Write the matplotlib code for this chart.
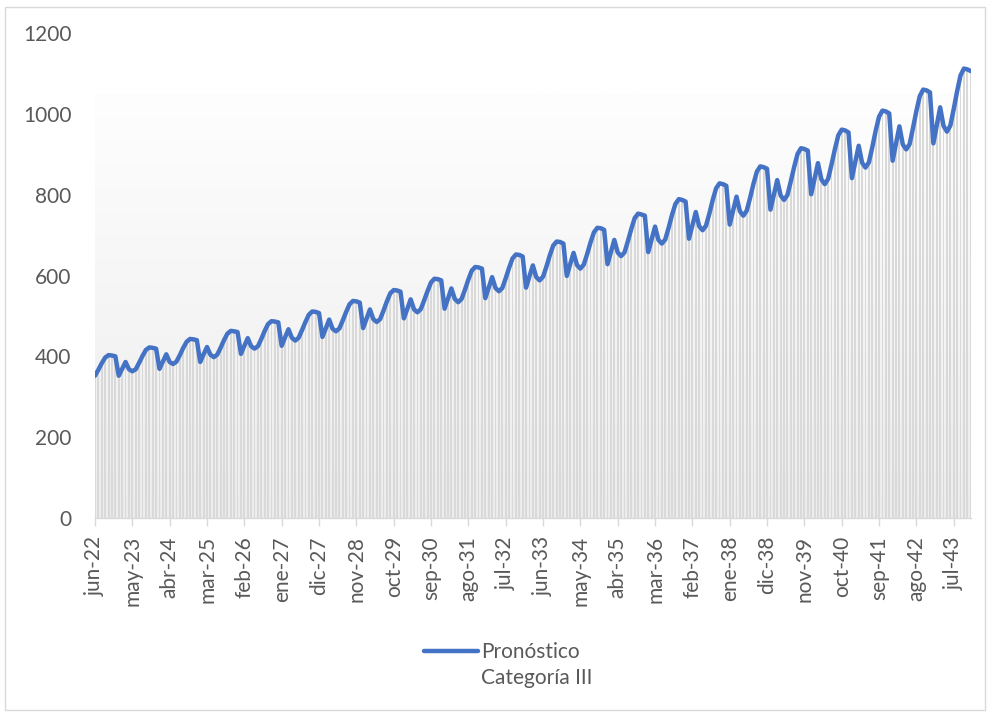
import numpy as np
import matplotlib
matplotlib.use('Agg')
from matplotlib import pyplot as plt
from matplotlib.patches import Rectangle
from matplotlib.lines import Line2D
from matplotlib.colors import LinearSegmentedColormap

# serie mensual jun-22 .. dic-43
pronostico = [
    352, 367, 383, 397, 403, 402, 400,                           # 2022 (jun-dic)
    352, 369, 386, 368, 363, 368, 384, 401, 416, 422, 421, 419,  # 2023
    369, 387, 405, 386, 381, 387, 403, 421, 436, 443, 442, 440,  # 2024
    386, 405, 423, 404, 398, 404, 421, 440, 456, 463, 462, 460,  # 2025
    406, 426, 445, 425, 419, 425, 443, 463, 480, 487, 486, 484,  # 2026
    426, 447, 467, 446, 439, 446, 465, 485, 503, 511, 510, 507,  # 2027
    448, 469, 491, 468, 462, 469, 489, 510, 529, 537, 536, 533,  # 2028
    470, 493, 516, 492, 485, 492, 513, 536, 556, 564, 563, 560,  # 2029
    494, 517, 541, 516, 509, 517, 539, 562, 583, 592, 591, 588,  # 2030
    518, 543, 568, 542, 534, 542, 565, 590, 612, 621, 620, 617,  # 2031
    544, 570, 596, 569, 561, 569, 593, 619, 642, 652, 651, 647,  # 2032
    570, 598, 625, 596, 588, 597, 622, 650, 674, 684, 683, 679,  # 2033
    599, 628, 656, 626, 617, 627, 653, 682, 707, 718, 717, 713,  # 2034
    628, 658, 688, 657, 648, 657, 685, 715, 742, 753, 751, 748,  # 2035
    658, 690, 721, 688, 679, 689, 718, 750, 777, 789, 787, 783,  # 2036
    691, 724, 757, 722, 712, 723, 753, 787, 816, 828, 826, 822,  # 2037
    726, 760, 795, 759, 748, 760, 792, 827, 857, 870, 868, 864,  # 2038
    763, 800, 836, 798, 787, 799, 833, 869, 901, 915, 913, 909,  # 2039
    801, 840, 878, 838, 826, 839, 875, 913, 947, 961, 959, 954,  # 2040
    841, 881, 921, 879, 867, 880, 917, 958, 993, 1008, 1006, 1001,  # 2041
    884, 926, 969, 924, 912, 925, 965, 1007, 1044, 1060, 1058, 1053,  # 2042
    927, 972, 1016, 970, 956, 971, 1012, 1056, 1095, 1112, 1110, 1106,  # 2043
]

tick_labels = ['jun-22', 'may-23', 'abr-24', 'mar-25', 'feb-26', 'ene-27',
               'dic-27', 'nov-28', 'oct-29', 'sep-30', 'ago-31', 'jul-32',
               'jun-33', 'may-34', 'abr-35', 'mar-36', 'feb-37', 'ene-38',
               'dic-38', 'nov-39', 'oct-40', 'sep-41', 'ago-42', 'jul-43']

y_ticks = [0, 200, 400, 600, 800, 1000, 1200]

txt = '#595959'
plt.rcParams['font.family'] = ['Lato', 'DejaVu Sans']

fig = plt.figure(figsize=(9.91, 7.15), dpi=100)
ax = fig.add_axes([95/991, 1-518/715, (970.7-95)/991, (518-33)/715])

n = len(pronostico)
x = np.arange(n)

# fondo degradado
grad = np.linspace(0, 1, 256).reshape(-1, 1)
cmap = LinearSegmentedColormap.from_list('g', ['#fefefe', '#ececec'])
ax.imshow(grad, extent=[0, n-1, 0, 1050], aspect='auto', cmap=cmap,
          origin='upper', zorder=0)

ax.bar(x, pronostico, width=0.55, color='#d9d9d9', zorder=1)
ax.plot(x, pronostico, color='#4472C4', lw=3.2, solid_joinstyle='round',
        solid_capstyle='round', zorder=3)

ax.set_xlim(0, n-1)
ax.set_ylim(0, 1200)
ax.set_yticks(y_ticks)
ax.set_xticks(np.arange(0, n, 11))
ax.set_xticklabels(tick_labels, rotation=90)

for s in ['top', 'right', 'left']:
    ax.spines[s].set_visible(False)
ax.spines['bottom'].set_color('#d9d9d9')
ax.spines['bottom'].set_linewidth(1)
ax.spines['bottom'].set_zorder(4)
ax.tick_params(axis='y', length=0, pad=17, labelsize=15, labelcolor=txt)
ax.tick_params(axis='x', length=6, width=1, color='#d9d9d9', pad=7,
               labelsize=15, labelcolor=txt)

# leyenda: linea junto a la primera linea del texto
h1 = Line2D([], [], color='#4472C4', lw=3.2, solid_capstyle='round')
h2 = Line2D([], [], color='none')
fig.legend([h1, h2], ['Pronóstico', 'Categoría III'], loc='center',
           bbox_to_anchor=(508/991, 1-665/715), frameon=False,
           fontsize=15, labelcolor=txt, handlelength=2.6, handletextpad=0.15,
           labelspacing=0.3)

fig.patches.append(Rectangle((5/991, 5/715), 980/991, 703/715, transform=fig.transFigure,
                             fill=False, edgecolor='#d9d9d9', lw=1))

fig.savefig('out.png', dpi=100)
